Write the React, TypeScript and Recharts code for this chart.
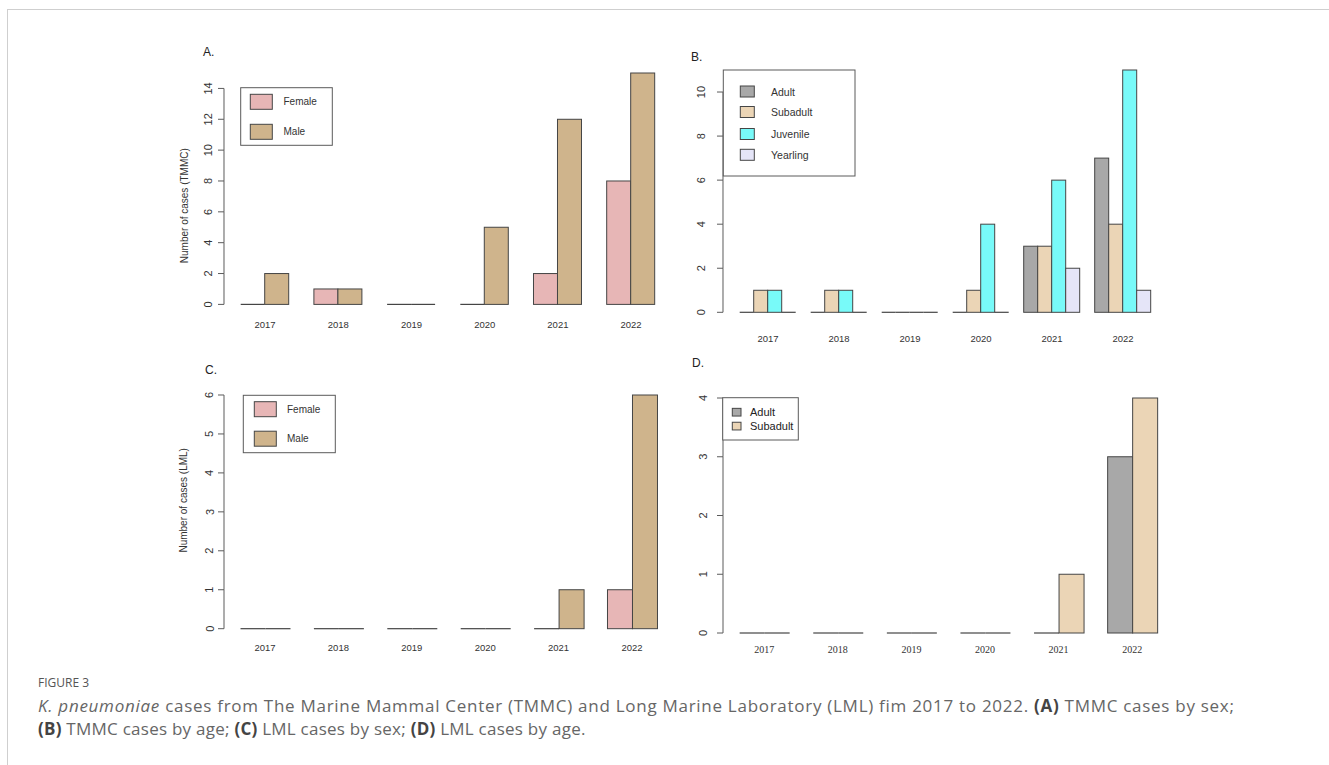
import { Bar, BarChart, XAxis, YAxis } from 'recharts';

const years = ['2017', '2018', '2019', '2020', '2021', '2022'];

// TMMC (panels A and B)
const tmmcFemale = [0, 1, 0, 0, 2, 8];
const tmmcMale = [2, 1, 0, 5, 12, 15];
const tmmcAdult = [0, 0, 0, 0, 3, 7];
const tmmcSubadult = [1, 1, 0, 1, 3, 4];
const tmmcJuvenile = [1, 1, 0, 4, 6, 11];
const tmmcYearling = [0, 0, 0, 0, 2, 1];

// LML (panels C and D)
const lmlFemale = [0, 0, 0, 0, 0, 1];
const lmlMale = [0, 0, 0, 0, 1, 6];
const lmlAdult = [0, 0, 0, 0, 0, 3];
const lmlSubadult = [0, 0, 0, 0, 1, 4];

const ticksA = [0, 2, 4, 6, 8, 10, 12, 14];
const ticksB = [0, 2, 4, 6, 8, 10];
const ticksC = [0, 1, 2, 3, 4, 5, 6];
const ticksD = [0, 1, 2, 3, 4];

const FEMALE = '#E7B6B6';
const MALE = '#CFB48C';
const ADULT = '#A8A8A8';
const SUBADULT = '#EBD5B6';
const JUVENILE = '#78FAF9';
const YEARLING = '#E5E5F8';
const STROKE = '#454545';
const AXIS = '#5a5a5a';
const SANS = '"Liberation Sans", Arial, sans-serif';
const SERIF = '"Liberation Serif", "Times New Roman", serif';
const CAPTION = '"Open Sans", Lato, sans-serif';

type Series = { key: string; name: string; values: number[]; color: string };

type PanelSpec = {
  axisX: number;
  zeroY: number;
  topY: number;
  domainMax: number;
  ticks: number[];
  plotRight: number;
  padLeft: number;
  gap: number;
  labelGap: number;
  xLabelDy: number;
  xFont: string;
  xFontSize: number;
  series: Series[];
};

function BarShape(props: any) {
  const { x, y, width, height, fill } = props;
  if (!height || Math.abs(height) < 0.5) {
    return <line x1={x} x2={x + width} y1={y} y2={y} stroke={STROKE} strokeWidth={1.2} />;
  }
  return <rect x={x} y={y} width={width} height={height} fill={fill} stroke={STROKE} strokeWidth={1} />;
}

function Panel({ spec }: { spec: PanelSpec }) {
  const { axisX, zeroY, topY, domainMax, ticks, plotRight, padLeft, gap, labelGap, xLabelDy, xFont, xFontSize, series } = spec;
  const width = plotRight - axisX + 70;
  const height = zeroY - topY + 70;
  const pxPerUnit = (zeroY - topY) / domainMax;
  const step = ticks[1] - ticks[0];
  const maxTick = ticks[ticks.length - 1];
  const data = years.map((year, i) => {
    const row: Record<string, string | number> = { year };
    series.forEach((s) => (row[s.key] = s.values[i]));
    return row;
  });

  const yTick = (p: any) => {
    const { x, y, payload } = p;
    const v = Number(payload.value);
    return (
      <g>
        {v < maxTick && <line x1={x} x2={x} y1={y} y2={y - step * pxPerUnit} stroke={AXIS} strokeWidth={1} />}
        <line x1={x - 6} x2={x} y1={y} y2={y} stroke={AXIS} strokeWidth={1} />
        <text
          x={x - labelGap}
          y={y}
          transform={`rotate(-90 ${x - labelGap} ${y})`}
          textAnchor="middle"
          dominantBaseline="central"
          fontSize={11}
          fontFamily={SANS}
          fill="#333"
        >
          {v}
        </text>
      </g>
    );
  };

  const xTick = (p: any) => (
    <text x={p.x} y={p.y + xLabelDy} textAnchor="middle" dominantBaseline="central" fontSize={xFontSize} fontFamily={xFont} fill="#333">
      {p.payload.value}
    </text>
  );

  return (
    <div style={{ position: 'absolute', left: axisX - 60, top: topY - 30 }}>
      <BarChart width={width} height={height} data={data} margin={{ top: 30, right: 10, left: 0, bottom: 0 }} barCategoryGap={gap} barGap={0}>
        <XAxis dataKey="year" height={40} padding={{ left: padLeft, right: 0 }} axisLine={false} tickLine={false} tickSize={0} tickMargin={0} interval={0} tick={xTick} />
        <YAxis width={60} type="number" domain={[0, domainMax]} ticks={ticks} interval={0} axisLine={false} tickLine={false} tickSize={0} tickMargin={0} tick={yTick} />
        {series.map((s) => (
          <Bar key={s.key} dataKey={s.key} name={s.name} fill={s.color} shape={(p: any) => <BarShape {...p} />} isAnimationActive={false} />
        ))}
      </BarChart>
    </div>
  );
}

const sexA: Series[] = [
  { key: 'female', name: 'Female', values: tmmcFemale, color: FEMALE },
  { key: 'male', name: 'Male', values: tmmcMale, color: MALE }
];
const ageB: Series[] = [
  { key: 'adult', name: 'Adult', values: tmmcAdult, color: ADULT },
  { key: 'subadult', name: 'Subadult', values: tmmcSubadult, color: SUBADULT },
  { key: 'juvenile', name: 'Juvenile', values: tmmcJuvenile, color: JUVENILE },
  { key: 'yearling', name: 'Yearling', values: tmmcYearling, color: YEARLING }
];
const sexC: Series[] = [
  { key: 'female', name: 'Female', values: lmlFemale, color: FEMALE },
  { key: 'male', name: 'Male', values: lmlMale, color: MALE }
];
const ageD: Series[] = [
  { key: 'adult', name: 'Adult', values: lmlAdult, color: ADULT },
  { key: 'subadult', name: 'Subadult', values: lmlSubadult, color: SUBADULT }
];

const panelA: PanelSpec = {
  axisX: 224, zeroY: 304, topY: 72.6, domainMax: 15, ticks: ticksA, plotRight: 667.7, padLeft: 4.5, gap: 12.2,
  labelGap: 15.5, xLabelDy: 20, xFont: SANS, xFontSize: 9.5, series: sexA
};
const panelB: PanelSpec = {
  axisX: 723.3, zeroY: 312.3, topY: 70, domainMax: 11, ticks: ticksB, plotRight: 1158.9, padLeft: 9.6, gap: 7.1,
  labelGap: 21.5, xLabelDy: 26.7, xFont: SANS, xFontSize: 9.5, series: ageB
};
const panelC: PanelSpec = {
  axisX: 223.5, zeroY: 629, topY: 395.3, domainMax: 6, ticks: ticksC, plotRight: 668.2, padLeft: 4.3, gap: 12.2,
  labelGap: 14.5, xLabelDy: 19.3, xFont: SANS, xFontSize: 9.5, series: sexC
};
const panelD: PanelSpec = {
  axisX: 722.7, zeroY: 632.7, topY: 397.7, domainMax: 4, ticks: ticksD, plotRight: 1168.7, padLeft: 4.4, gap: 12.25,
  labelGap: 20, xLabelDy: 16.3, xFont: SERIF, xFontSize: 10, series: ageD
};

type LegendSpec = {
  left: number; top: number; width: number; height: number;
  swatchX: number; swatchW: number; swatchH: number; labelX: number; rows: number[]; fontSize: number; color: string;
  series: Series[];
};

function LegendBox({ spec }: { spec: LegendSpec }) {
  const { left, top, width, height, swatchX, swatchW, swatchH, labelX, rows, fontSize, color, series } = spec;
  return (
    <g>
      <rect x={left} y={top} width={width} height={height} fill="#fff" stroke={AXIS} strokeWidth={1} />
      {series.map((s, i) => (
        <g key={s.key}>
          <rect x={swatchX} y={rows[i] - swatchH / 2} width={swatchW} height={swatchH} fill={s.color} stroke={STROKE} strokeWidth={1} />
          <text x={labelX} y={rows[i]} dominantBaseline="central" fontSize={fontSize} fontFamily={SANS} fill={color}>
            {s.name}
          </text>
        </g>
      ))}
    </g>
  );
}

const legendA: LegendSpec = { left: 240.7, top: 87.7, width: 91.6, height: 57.6, swatchX: 250.3, swatchW: 22, swatchH: 15, labelX: 283.5, rows: [101.8, 131.8], fontSize: 10, color: '#333', series: sexA };
const legendB: LegendSpec = { left: 723.3, top: 70, width: 131.7, height: 106, swatchX: 740.3, swatchW: 14, swatchH: 11, labelX: 771, rows: [91.5, 112, 134, 154.8], fontSize: 10.5, color: '#333', series: ageB };
const legendC: LegendSpec = { left: 243.3, top: 395.3, width: 92, height: 57.4, swatchX: 254.3, swatchW: 22, swatchH: 15, labelX: 287, rows: [409.2, 438.7], fontSize: 10, color: '#333', series: sexC };
const legendD: LegendSpec = { left: 722.7, top: 397.7, width: 75.6, height: 42.3, swatchX: 732.3, swatchW: 8.7, swatchH: 7.7, labelX: 750, rows: [412.2, 426.1], fontSize: 11, color: '#222', series: ageD };

const bold = { color: '#444', fontWeight: 700 } as const;

export default function App() {
  return (
    <div style={{ position: 'absolute', left: 0, top: 0, width: 1329, height: 765, background: '#fff', overflow: 'hidden' }}>
      <div style={{ position: 'absolute', left: 7, top: 9, right: 0, bottom: 0, borderTop: '1px solid #cfcfcf', borderLeft: '1px solid #cfcfcf' }} />
      <Panel spec={panelA} />
      <Panel spec={panelB} />
      <Panel spec={panelC} />
      <Panel spec={panelD} />
      <svg width={1329} height={765} style={{ position: 'absolute', left: 0, top: 0, pointerEvents: 'none' }}>
        <LegendBox spec={legendA} />
        <LegendBox spec={legendB} />
        <LegendBox spec={legendC} />
        <LegendBox spec={legendD} />
        <g fontFamily={SANS} fontSize={12} fill="#222">
          <text x={203} y={52} dominantBaseline="central">A.</text>
          <text x={691} y={57} dominantBaseline="central">B.</text>
          <text x={205} y={370} dominantBaseline="central">C.</text>
          <text x={692} y={363} dominantBaseline="central">D.</text>
        </g>
        <g fontFamily={SANS} fontSize={10} fill="#333" textAnchor="middle">
          <text x={185} y={205.7} dominantBaseline="central" transform="rotate(-90 185 205.7)">Number of cases (TMMC)</text>
          <text x={184} y={500.3} dominantBaseline="central" transform="rotate(-90 184 500.3)">Number of cases (LML)</text>
        </g>
      </svg>
      <div style={{ position: 'absolute', left: 38, top: 674, fontFamily: CAPTION, fontSize: 12, color: '#555', lineHeight: '18px' }}>
        FIGURE 3
      </div>
      <div style={{ position: 'absolute', left: 38, top: 694, width: 1285, whiteSpace: 'nowrap', fontFamily: CAPTION, fontSize: 17, color: '#666', lineHeight: '23px' }}>
        <div style={{ letterSpacing: 0.72 }}>
          <i>K. pneumoniae</i> cases from The Marine Mammal Center (TMMC) and Long Marine Laboratory (LML) fim 2017 to 2022. <span style={bold}>(A)</span> TMMC cases by sex;
        </div>
        <div style={{ letterSpacing: 0.25 }}>
          <span style={bold}>(B)</span> TMMC cases by age; <span style={bold}>(C)</span> LML cases by sex; <span style={bold}>(D)</span> LML cases by age.
        </div>
      </div>
    </div>
  );
}
